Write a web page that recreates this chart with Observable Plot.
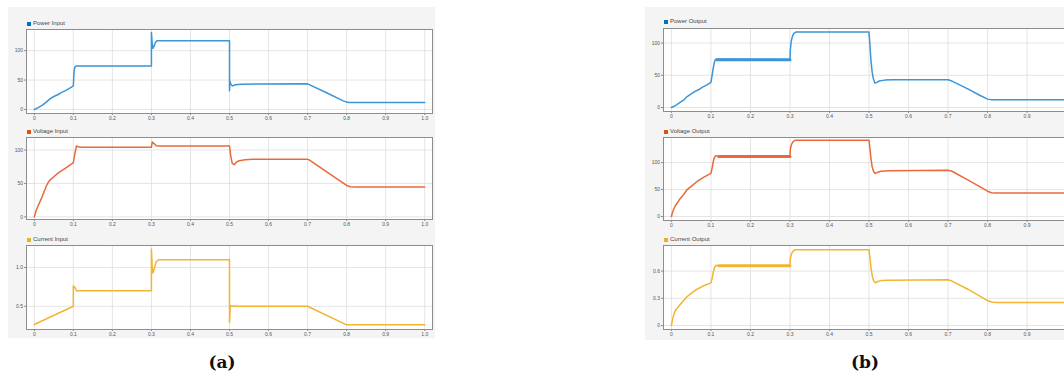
<!DOCTYPE html>
<html><head><meta charset="utf-8">
<script src="https://cdn.jsdelivr.net/npm/d3@7"></script>
<script src="https://cdn.jsdelivr.net/npm/@observablehq/plot@0.6"></script>
<style>
html,body{margin:0;padding:0;background:#fff;overflow:hidden;}
#root{position:relative;width:1064px;height:380px;overflow:hidden;font-family:"Liberation Sans",Arial,sans-serif;}
.bg{position:absolute;background:#f4f4f4;}
.leg{position:absolute;font-size:6px;color:#444;line-height:8px;white-space:nowrap;}
.leg i{display:inline-block;width:4px;height:4px;margin-right:2px;vertical-align:-0.5px;}
.cap{position:absolute;font:bold 17px "DejaVu Serif";transform:translate(-50%,-50%);color:#111;}
.sub{position:absolute;}
.sub svg{max-width:none !important;display:block;}
</style></head>
<body><div id="root"></div>
<script>
// ---------- data (time [s], value) ----------
const xTicks = [0,0.1,0.2,0.3,0.4,0.5,0.6,0.7,0.8,0.9,1.0];
const xTickLabels = ["0","0.1","0.2","0.3","0.4","0.5","0.6","0.7","0.8","0.9","1.0"];
// panel (b) is cropped at the right edge: its last label is not visible
const xTicksB = [0,0.1,0.2,0.3,0.4,0.5,0.6,0.7,0.8,0.9];

const powerInput = [[0,0],[0.01,3],[0.02,7],[0.03,12],[0.04,18],[0.05,22],[0.06,25],[0.07,29],[0.08,32],[0.09,36],[0.1,40],[0.101,55],[0.102,66],[0.104,72],[0.107,74],[0.3,74],[0.3,131],[0.302,112],[0.304,104],[0.307,108],[0.31,114],[0.315,117],[0.5,117],[0.5,32],[0.501,48],[0.504,42],[0.508,40],[0.515,42],[0.53,43],[0.7,43.5],[0.75,28],[0.79,15],[0.8,12.5],[0.805,12],[1.0,12]];
const voltageInput = [[0,0],[0.005,10],[0.01,17],[0.02,30],[0.03,45],[0.035,51],[0.04,55],[0.05,60],[0.06,65],[0.07,69],[0.08,73],[0.09,77],[0.1,81],[0.104,95],[0.108,106],[0.112,105],[0.118,104],[0.3,104],[0.302,112],[0.306,110],[0.312,106.5],[0.32,106],[0.5,106],[0.503,92],[0.507,80],[0.512,78],[0.518,82],[0.525,84],[0.54,85.5],[0.56,86],[0.7,86],[0.705,85],[0.8,47],[0.81,45],[0.82,44.6],[1.0,44.6]];
const currentInput = [[0,0.265],[0.1,0.5],[0.1,0.76],[0.103,0.75],[0.108,0.70],[0.115,0.70],[0.3,0.70],[0.3,1.24],[0.302,1.0],[0.304,0.93],[0.307,0.98],[0.312,1.07],[0.318,1.10],[0.5,1.10],[0.5,0.29],[0.502,0.505],[0.52,0.5],[0.7,0.5],[0.8,0.26],[1.0,0.26]];

const powerOutput = [[0,0],[0.01,3],[0.02,7],[0.03,11],[0.04,17],[0.05,21],[0.06,25],[0.07,28],[0.08,32],[0.09,35],[0.1,39],[0.103,50],[0.106,62],[0.109,71],[0.112,75],[0.3,74],[0.301,90],[0.303,102],[0.306,110],[0.31,115],[0.315,117],[0.5,117],[0.502,100],[0.505,72],[0.508,55],[0.511,45],[0.515,38],[0.52,39],[0.525,41],[0.54,42.5],[0.56,43],[0.7,43],[0.71,41],[0.75,29],[0.78,19],[0.8,13],[0.81,12],[1.0,12]];
const voltageOutput = [[0,0],[0.003,8],[0.006,14],[0.01,20],[0.02,31],[0.03,40],[0.04,50],[0.05,56],[0.065,65],[0.08,72],[0.1,80],[0.103,90],[0.106,102],[0.109,110],[0.113,113],[0.118,111.5],[0.3,111.5],[0.301,125],[0.304,134],[0.308,139],[0.313,141.5],[0.5,141.5],[0.502,128],[0.505,108],[0.508,92],[0.512,83],[0.516,80],[0.522,82],[0.53,84],[0.55,85],[0.7,86],[0.71,84],[0.75,68],[0.8,47],[0.81,44],[0.82,43.5],[1.0,43.5]];
const currentOutput = [[0,0],[0.003,0.07],[0.006,0.12],[0.01,0.165],[0.02,0.22],[0.03,0.27],[0.04,0.32],[0.05,0.355],[0.065,0.40],[0.08,0.435],[0.1,0.47],[0.103,0.52],[0.106,0.59],[0.109,0.64],[0.113,0.665],[0.12,0.66],[0.3,0.66],[0.301,0.74],[0.304,0.79],[0.308,0.82],[0.313,0.835],[0.5,0.835],[0.502,0.76],[0.505,0.64],[0.508,0.55],[0.512,0.49],[0.516,0.47],[0.522,0.485],[0.53,0.495],[0.55,0.5],[0.7,0.505],[0.71,0.49],[0.75,0.4],[0.8,0.275],[0.81,0.26],[0.82,0.255],[1.0,0.255]];

// ripple bands (thicker trace where the signal oscillates)
const powerOutputRipple = [[0.115,74],[0.3,74]];
const voltageOutputRipple = [[0.12,111.5],[0.3,111.5]];
const currentOutputRipple = [[0.12,0.66],[0.3,0.66]];

const powerTicks = [0,50,100];
const voltageTicks = [0,50,100];
const currentInTicks = [0.5,1.0];
const currentInLabels = ["0.5","1.0"];
const currentOutTicks = [0,0.3,0.6];
const currentOutLabels = ["0","0.3","0.6"];

const names = ["Power Input","Voltage Input","Current Input","Power Output","Voltage Output","Current Output"];

// ---------- drawing ----------
const BLUE = "#3b95d7", ORANGE = "#e9693b", YELLOW = "#f1b532";
const LBLUE = "#0072BD", LORANGE = "#D95319", LYELLOW = "#EDB120";
const root = document.getElementById("root");

function add(html){ const d = document.createElement("div"); d.innerHTML = html; const el = d.firstElementChild; root.appendChild(el); return el; }

add(`<div class="bg" style="left:8px;top:7px;width:427px;height:331px"></div>`);
add(`<div class="bg" style="left:645px;top:7px;width:430px;height:333px"></div>`);

function sub(o){
  const mt = 2, mb = 10;
  const labelTicks = o.xLabelTicks || xTicks;
  const chart = Plot.plot({
    width: o.width, height: o.frameH + mt + mb,
    marginLeft: o.ml, marginRight: 3, marginTop: mt, marginBottom: mb,
    x: {domain: [-0.02, 1.02]},
    y: {domain: o.yDomain},
    style: {background: "transparent", fontFamily: "'Liberation Sans', Arial, sans-serif", fontSize: "5px", color: "#555", maxWidth: "none"},
    marks: [
      Plot.frame({fill: "white"}),
      Plot.gridX(xTicks, {stroke: "#dedede", strokeOpacity: 1, strokeWidth: 0.8}),
      Plot.gridY(o.yTicks, {stroke: "#dedede", strokeOpacity: 1, strokeWidth: 0.8}),
      ...(o.ripple ? [Plot.line(o.ripple, {x: d => d[0], y: d => d[1], stroke: o.color, strokeWidth: 3})] : []),
      Plot.line(o.data, {x: d => d[0], y: d => d[1], stroke: o.color, strokeWidth: 1.5, curve: "linear"}),
      Plot.frame({stroke: "#8d8d8d", strokeWidth: 1}),
      Plot.axisX(labelTicks, {tickFormat: d => xTickLabels[xTicks.indexOf(d)], tickSize: 2, tickPadding: 1, fontSize: 5, stroke: "#8d8d8d"}),
      Plot.axisY(o.yTicks, {tickFormat: d => o.yLabels ? o.yLabels[o.yTicks.indexOf(d)] : String(d), tickSize: 2, tickPadding: 1.5, fontSize: 5, stroke: "#8d8d8d"})
    ]
  });
  const wrap = document.createElement("div");
  wrap.className = "sub";
  wrap.style.left = o.left + "px";
  wrap.style.top = (o.frameTop - mt) + "px";
  wrap.style.width = o.width + "px";
  wrap.appendChild(chart);
  root.appendChild(wrap);
  add(`<div class="leg" style="left:${o.left + o.ml + 1}px;top:${o.legY - 4}px"><i style="background:${o.lcolor}"></i>${o.name}</div>`);
}

// panel (a)
sub({name: names[0], data: powerInput, color: BLUE, lcolor: LBLUE, yDomain: [-6.9, 136], yTicks: powerTicks, left: 8, ml: 18, width: 427, frameTop: 29, frameH: 84, legY: 23});
sub({name: names[1], data: voltageInput, color: ORANGE, lcolor: LORANGE, yDomain: [-3.9, 118.7], yTicks: voltageTicks, left: 8, ml: 18, width: 427, frameTop: 137, frameH: 82, legY: 131});
sub({name: names[2], data: currentInput, color: YELLOW, lcolor: LYELLOW, yDomain: [0.2, 1.284], yTicks: currentInTicks, yLabels: currentInLabels, left: 8, ml: 18, width: 427, frameTop: 245, frameH: 84, legY: 239});
// panel (b)
sub({name: names[3], data: powerOutput, ripple: powerOutputRipple, color: BLUE, lcolor: LBLUE, yDomain: [-6.2, 122.6], yTicks: powerTicks, xLabelTicks: xTicksB, left: 645, ml: 18, width: 432, frameTop: 28, frameH: 83, legY: 21});
sub({name: names[4], data: voltageOutput, ripple: voltageOutputRipple, color: ORANGE, lcolor: LORANGE, yDomain: [-7.4, 146.6], yTicks: voltageTicks, xLabelTicks: xTicksB, left: 645, ml: 18, width: 432, frameTop: 137, frameH: 83, legY: 131});
sub({name: names[5], data: currentOutput, ripple: currentOutputRipple, color: YELLOW, lcolor: LYELLOW, yDomain: [-0.044, 0.882], yTicks: currentOutTicks, yLabels: currentOutLabels, xLabelTicks: xTicksB, left: 645, ml: 18, width: 432, frameTop: 245, frameH: 84, legY: 239});

add(`<div class="cap" style="left:222px;top:362px">(a)</div>`);
add(`<div class="cap" style="left:865px;top:362px">(b)</div>`);
</script>
</body></html>
